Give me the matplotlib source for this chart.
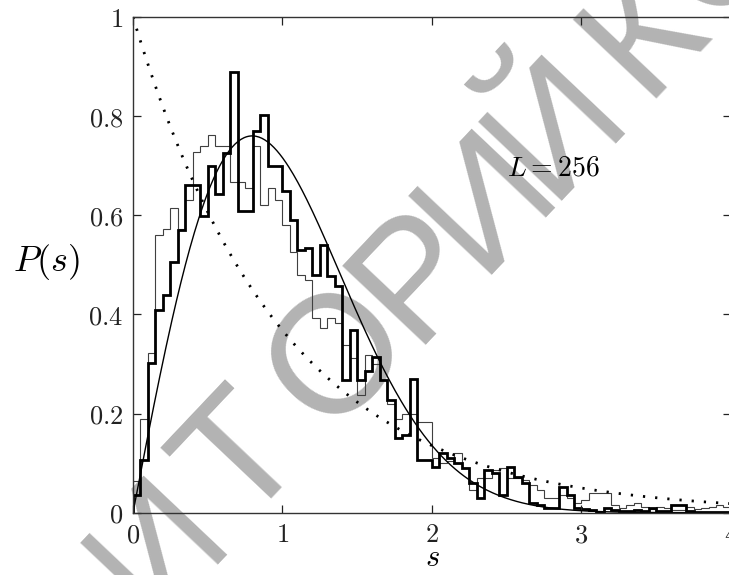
import numpy as np
import matplotlib
matplotlib.use('Agg')
import matplotlib.pyplot as plt

# --- Configuração de fontes (estilo LaTeX) ---
plt.rcParams['mathtext.fontset'] = 'cm'

# --- Dados ---
# Histogramas com bins de largura 0.05 entre s = 0 e s = 4
largura_bin = 0.05
s_inicio = 0.0

# histograma de traço fino
hist_fino = [0.065, 0.189, 0.322, 0.561, 0.573, 0.615, 0.573, 0.630, 0.727, 0.739,
             0.763, 0.739, 0.740, 0.667, 0.667, 0.655, 0.740, 0.620, 0.656, 0.630,
             0.580, 0.525, 0.480, 0.470, 0.393, 0.373, 0.393, 0.383, 0.338, 0.312,
             0.238, 0.318, 0.300, 0.268, 0.220, 0.190, 0.200, 0.200, 0.184, 0.184,
             0.110, 0.100, 0.105, 0.120, 0.090, 0.046, 0.070, 0.070, 0.086, 0.090,
             0.070, 0.070, 0.066, 0.056, 0.046, 0.030, 0.030, 0.035, 0.030, 0.020,
             0.025, 0.039, 0.039, 0.039, 0.015, 0.010, 0.015, 0.020, 0.012, 0.008,
             0.012, 0.010, 0.005, 0.005, 0.012, 0.008, 0.010, 0.012, 0.015, 0.012]

# histograma de traço grosso
hist_grosso = [0.036, 0.106, 0.302, 0.409, 0.440, 0.505, 0.571, 0.662, 0.662, 0.598,
               0.700, 0.642, 0.726, 0.889, 0.608, 0.608, 0.770, 0.803, 0.700, 0.700,
               0.650, 0.590, 0.530, 0.535, 0.480, 0.540, 0.477, 0.457, 0.268, 0.369,
               0.268, 0.285, 0.315, 0.268, 0.228, 0.150, 0.157, 0.270, 0.106, 0.106,
               0.093, 0.120, 0.110, 0.100, 0.090, 0.060, 0.030, 0.086, 0.080, 0.035,
               0.093, 0.073, 0.060, 0.020, 0.015, 0.010, 0.010, 0.052, 0.035, 0.010,
               0.008, 0.005, 0.002, 0.010, 0.005, 0.003, 0.003, 0.006, 0.003, 0.010,
               0.004, 0.003, 0.015, 0.015, 0.004, 0.002, 0.002, 0.002, 0.002, 0.002]

xticks = [0, 1, 2, 3, 4]
yticks = [0, 0.2, 0.4, 0.6, 0.8, 1]
ytick_rotulos = ['0', '0.2', '0.4', '0.6', '0.8', '1']

texto_L = r'$L = 256$'
# letras visíveis da marca d'água
marca_letras = ['И', 'Т', 'О', 'Р', 'И', 'Й', 'К', 'О']

# --- Preparação ---
bordas = s_inicio + largura_bin * np.arange(len(hist_fino) + 1)
s = np.linspace(0, 4, 400)
wigner = np.pi / 2 * s * np.exp(-np.pi * s ** 2 / 4)   # surmise de Wigner
poisson = np.exp(-s)                                  # distribuição de Poisson

# --- Figura ---
fig = plt.figure(figsize=(7.29, 5.75), dpi=100)
ax = fig.add_axes([0.1824, 0.1083, 0.8203, 0.8621])
ax.patch.set_visible(False)   # deixa a marca d'água aparecer por baixo

ax.stairs(hist_fino, bordas, color='#404040', linewidth=0.8)
ax.stairs(hist_grosso, bordas, color='black', linewidth=2.0)
ax.plot(s, wigner, color='black', linewidth=1.0)
ax.plot(s, poisson, color='black', linewidth=2.0, linestyle=(0, (0.8, 3.6)))

ax.set_xlim(0, 4)
ax.set_ylim(0, 1)
ax.set_xticks(xticks, labels=[f'${t}$' for t in xticks])
ax.set_yticks(yticks, labels=[f'${t}$' for t in ytick_rotulos])
ax.tick_params(direction='in', length=5.5, width=0.9, top=True, right=True,
               labelsize=19, pad=7, colors='#222222')
for lado in ax.spines.values():
    lado.set_linewidth(1.0)
    lado.set_color('#333333')

ax.text(-0.145, 0.506, r'$P(s)$', transform=ax.transAxes, fontsize=26,
        ha='center', va='center')
ax.text(2.0, -0.1195, r'$s$', fontsize=22, ha='center', va='bottom')
ax.text(2.5, 0.696, texto_L, fontsize=20, ha='left', va='center')

# --- Marca d'água (cinza, por baixo das curvas) ---
# cada letra é posicionada ao longo de uma linha inclinada (em pixels)
angulo = 46.6
direcao = np.array([np.cos(np.radians(angulo)), -np.sin(np.radians(angulo))])
centro_T = np.array([244.0, 460.0])
posicoes = [-122, 0, 140, 255, 355, 457, 585, 702]   # distância ao centro do "Т"
for letra, d in zip(marca_letras, posicoes):
    px, py = centro_T + direcao * d
    fig.text(px / 729, 1 - py / 575, letra, rotation=angulo, rotation_mode='anchor',
             ha='center', va='center', fontsize=120, family='Liberation Sans',
             color='#b3b3b3', zorder=-1)

plt.savefig('out.png', dpi=100)
